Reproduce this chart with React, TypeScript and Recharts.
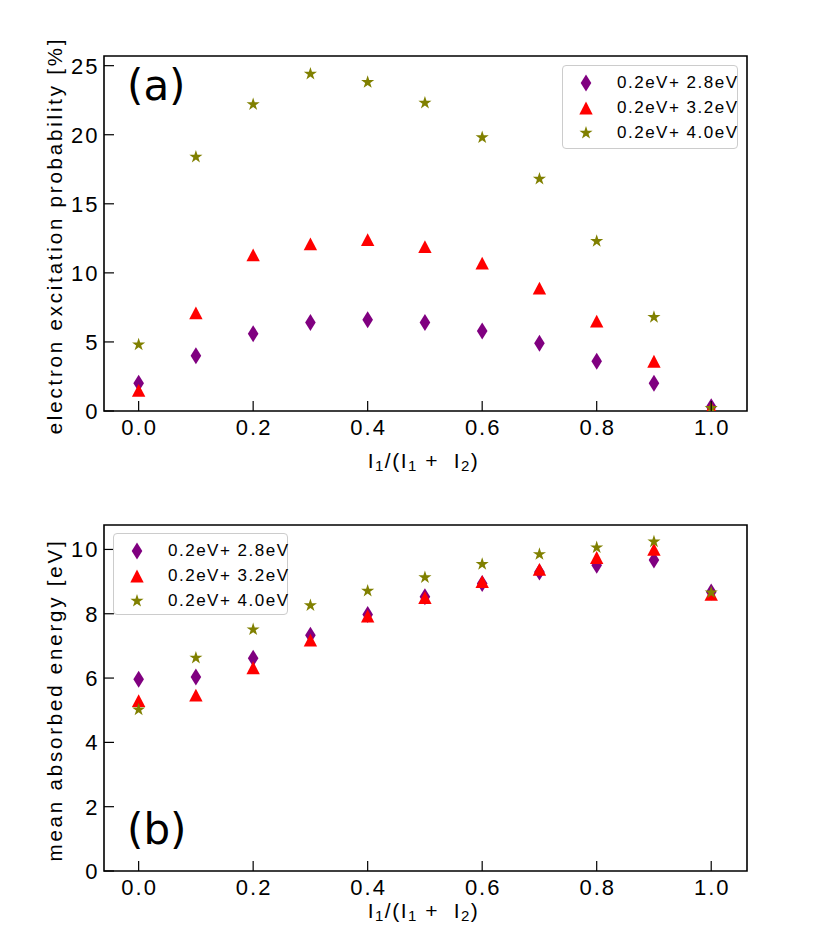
import React from 'react';
import { ScatterChart, Scatter, XAxis, YAxis, Legend, Label, ReferenceArea } from 'recharts';

// ---------- data ----------
const ratios = [0, 0.1, 0.2, 0.3, 0.4, 0.5, 0.6, 0.7, 0.8, 0.9, 1.0];
const seriesNames = ['0.2eV+ 2.8eV', '0.2eV+ 3.2eV', '0.2eV+ 4.0eV'];
const seriesColors = ['#800080', '#ff0000', '#808000'];
const seriesKinds = ['diamond', 'triangle', 'star'];

const excitation28 = [2.0, 4.0, 5.6, 6.4, 6.6, 6.4, 5.8, 4.9, 3.6, 2.0, 0.3];
const excitation32 = [1.5, 7.1, 11.3, 12.1, 12.4, 11.9, 10.7, 8.9, 6.5, 3.6, 0.2];
const excitation40 = [4.8, 18.4, 22.2, 24.4, 23.8, 22.3, 19.8, 16.8, 12.3, 6.8, 0.2];

const energy28 = [5.96, 6.03, 6.62, 7.33, 7.98, 8.53, 8.94, 9.3, 9.51, 9.67, 8.68];
const energy32 = [5.3, 5.47, 6.32, 7.18, 7.93, 8.5, 9.0, 9.38, 9.75, 10.0, 8.6];
const energy40 = [5.02, 6.63, 7.51, 8.26, 8.71, 9.13, 9.54, 9.85, 10.06, 10.24, 8.66];

const xTicks = [0, 0.2, 0.4, 0.6, 0.8, 1.0];
const yTicksA = [0, 5, 10, 15, 20, 25];
const yTicksB = [0, 2, 4, 6, 8, 10];
const xDomain = [-0.0605, 1.0625];
const yDomainA = [0, 25.7];
const yDomainB = [0, 10.76];

const toPoints = (ys: number[]) => ratios.map((x, i) => ({ x, y: ys[i] }));
const panelA = [excitation28, excitation32, excitation40].map(toPoints);
const panelB = [energy28, energy32, energy40].map(toPoints);

// ---------- styles ----------
const FONT = "'Liberation Sans', Arial, Helvetica, sans-serif";
const tickFont: React.CSSProperties = { fontFamily: FONT, fontSize: 22, letterSpacing: 2, fill: '#000' };
const labelFont: React.CSSProperties = { fontFamily: FONT, fontSize: 20.5, letterSpacing: 2.8, fill: '#000' };

// ---------- markers ----------
function Marker({ kind, cx, cy, fill }: { kind: string; cx: number; cy: number; fill: string }) {
  if (cx == null || cy == null) return null;
  if (kind === 'diamond') {
    const w = 5.3, h = 8.5;
    return <polygon points={`${cx},${cy - h} ${cx + w},${cy} ${cx},${cy + h} ${cx - w},${cy}`} fill={fill} />;
  }
  if (kind === 'triangle') {
    const w = 6.7, h = 6.4;
    return <polygon points={`${cx},${cy - h} ${cx + w},${cy + h} ${cx - w},${cy + h}`} fill={fill} />;
  }
  const R = 6.9, r = R * 0.382;
  const pts: string[] = [];
  for (let k = 0; k < 10; k++) {
    const a = -Math.PI / 2 + (k * Math.PI) / 5;
    const rad = k % 2 === 0 ? R : r;
    pts.push(`${cx + rad * Math.cos(a)},${cy + rad * Math.sin(a)}`);
  }
  return <polygon points={pts.join(' ')} fill={fill} />;
}

const makeShape = (i: number) => (props: any) => (
  <Marker kind={seriesKinds[i]} cx={props.cx} cy={props.cy} fill={seriesColors[i]} />
);

// ---------- ticks ----------
const XTick = (props: any) => {
  const { x, y, payload } = props;
  return (
    <g>
      <line x1={x} y1={y} x2={x} y2={y - 10} stroke="#000" strokeWidth={1.2} />
      <text x={x + 1} y={y + 23.5} textAnchor="middle" style={tickFont}>
        {Number(payload.value).toFixed(1)}
      </text>
    </g>
  );
};

const YTick = (props: any) => {
  const { x, y, payload } = props;
  return (
    <g>
      <line x1={x} y1={y} x2={x + 10} y2={y} stroke="#000" strokeWidth={1.2} />
      <text x={x - 4.5} y={y + 8} textAnchor="end" style={tickFont}>
        {payload.value}
      </text>
    </g>
  );
};

// ---------- labels ----------
const makeYLabel = (text: string) => (props: any) => {
  const vb = props.viewBox || {};
  const cx = vb.x + 62;
  const cy = vb.y + vb.height / 2 + 2;
  return (
    <text x={cx} y={cy} transform={`rotate(-90, ${cx}, ${cy})`} textAnchor="middle" style={labelFont}>
      {text}
    </text>
  );
};

const makeXLabel = (offset: number) => (props: any) => {
  const vb = props.viewBox || {};
  const cx = vb.x + vb.width / 2 - 2;
  const by = vb.y + offset;
  const sub = { fontSize: 15 };
  return (
    <text x={cx} y={by} textAnchor="middle" style={{ ...labelFont, fontSize: 21, letterSpacing: 1.5 }}>
      I<tspan style={sub} dy={3}>1</tspan>
      <tspan dy={-3}>/(I</tspan>
      <tspan style={sub} dy={3}>1</tspan>
      <tspan dy={-3}>{'\u00a0+\u00a0\u00a0I'}</tspan>
      <tspan style={sub} dy={3}>2</tspan>
      <tspan dy={-3}>)</tspan>
    </text>
  );
};

// ---------- legend ----------
const LegendBox = () => (
  <div
    style={{
      width: '100%',
      height: '100%',
      boxSizing: 'border-box',
      border: '1px solid #cccccc',
      borderRadius: 4,
      background: 'rgba(255,255,255,0.85)',
      position: 'relative',
    }}
  >
    {seriesNames.map((name, i) => (
      <div
        key={name}
        style={{ position: 'absolute', left: 0, top: 3.5 + 25 * i, height: 26, display: 'flex', alignItems: 'center' }}
      >
        <svg width={47} height={26} style={{ display: 'block' }}>
          <Marker kind={seriesKinds[i]} cx={23} cy={13} fill={seriesColors[i]} />
        </svg>
        <span
          style={{
            marginLeft: 7,
            fontFamily: FONT,
            fontSize: 17,
            letterSpacing: 1.5,
            color: '#000',
            whiteSpace: 'pre',
            lineHeight: '26px',
          }}
        >
          {name}
        </span>
      </div>
    ))}
  </div>
);

// ---------- panel ----------
type PanelProps = {
  series: { x: number; y: number }[][];
  yDomain: number[];
  yTicks: number[];
  yLabel: string;
  height: number;
  marginTop: number;
  marginBottom: number;
  xAxisHeight: number;
  xLabelOffset: number;
  legendPos: { left: number; top: number; width: number; height: number };
};

function Panel(p: PanelProps) {
  return (
    <ScatterChart
      width={830}
      height={p.height}
      margin={{ top: p.marginTop, right: 83, bottom: p.marginBottom, left: 0 }}
    >
      <XAxis
        type="number"
        dataKey="x"
        domain={xDomain}
        ticks={xTicks}
        interval={0}
        allowDataOverflow
        height={p.xAxisHeight}
        tickSize={0}
        tickMargin={0}
        tickLine={false}
        tick={<XTick />}
        axisLine={false}
      >
        <Label content={makeXLabel(p.xLabelOffset)} />
      </XAxis>
      <YAxis
        type="number"
        dataKey="y"
        domain={p.yDomain}
        ticks={p.yTicks}
        interval={0}
        allowDataOverflow
        width={104}
        tickSize={0}
        tickMargin={0}
        tickLine={false}
        tick={<YTick />}
        axisLine={false}
      >
        <Label content={makeYLabel(p.yLabel)} />
      </YAxis>
      <ReferenceArea
        x1={xDomain[0]}
        x2={xDomain[1]}
        y1={p.yDomain[0]}
        y2={p.yDomain[1]}
        fill="none"
        fillOpacity={0}
        stroke="#000"
        strokeWidth={1.6}
        ifOverflow="visible"
      />
      <Legend
        layout="horizontal"
        verticalAlign="middle"
        align="center"
        wrapperStyle={{ ...p.legendPos }}
        content={() => <LegendBox />}
      />
      {p.series.map((data, i) => (
        <Scatter
          key={seriesNames[i]}
          name={seriesNames[i]}
          data={data}
          fill={seriesColors[i]}
          shape={makeShape(i)}
          isAnimationActive={false}
        />
      ))}
    </ScatterChart>
  );
}

const panelTag: React.CSSProperties = {
  fontFamily: "'DejaVu Sans', sans-serif",
  fontSize: 42,
  fill: '#000',
};

export default function App() {
  return (
    <div style={{ position: 'absolute', left: 0, top: 0, width: 830, height: 929, background: '#fff' }}>
      <div style={{ position: 'absolute', left: 0, top: 0 }}>
        <Panel
          series={panelA}
          yDomain={yDomainA}
          yTicks={yTicksA}
          yLabel="electron excitation probability [%]"
          height={480}
          marginTop={56}
          marginBottom={15}
          xAxisHeight={54}
          xLabelOffset={57}
          legendPos={{ left: 562, top: 65, width: 176, height: 84 }}
        />
      </div>
      <div style={{ position: 'absolute', left: 0, top: 465 }}>
        <Panel
          series={panelB}
          yDomain={yDomainB}
          yTicks={yTicksB}
          yLabel="mean absorbed energy [eV]"
          height={464}
          marginTop={60}
          marginBottom={0}
          xAxisHeight={58}
          xLabelOffset={47}
          legendPos={{ left: 113, top: 68, width: 175, height: 82 }}
        />
      </div>
      <svg width={830} height={929} style={{ position: 'absolute', left: 0, top: 0, pointerEvents: 'none' }}>
        <text x={127} y={100} style={panelTag}>(a)</text>
        <text x={127} y={844} style={panelTag}>(b)</text>
      </svg>
    </div>
  );
}
